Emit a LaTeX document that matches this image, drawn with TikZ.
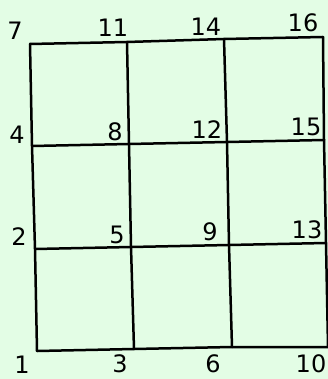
\documentclass[tikz,border=0pt]{standalone}
\usepackage{fontspec}
\setmainfont{DejaVu Sans}
\definecolor{paper}{HTML}{E3FDE5}
\tikzset{
  gridline/.style={line width=2.5pt, draw=black, line cap=round, line join=round},
  vlabel/.style={font=\fontsize{24}{26}\selectfont, inner sep=0pt},
}

\begin{document}
\begin{tikzpicture}[x=1pt, y=-1pt]
\fill[paper] (0,0) rectangle (328,379);
\useasboundingbox (0,0) rectangle (328,379);
% grid points, named after their labels
\coordinate (v1) at (37,351);
\coordinate (v3) at (134,349);
\coordinate (v6) at (232,347);
\coordinate (v10) at (328,347);
\coordinate (v2) at (35,249);
\coordinate (v5) at (131,247);
\coordinate (v9) at (229,245);
\coordinate (v13) at (326,243);
\coordinate (v4) at (32,146);
\coordinate (v8) at (129,144);
\coordinate (v12) at (227,142);
\coordinate (v15) at (324,140);
\coordinate (v7) at (30,44);
\coordinate (v11) at (127,42);
\coordinate (v14) at (224,39);
\coordinate (v16) at (323,37);
% rows
\draw[gridline] (v7) -- (v11) -- (v14) -- (v16);
\draw[gridline] (v4) -- (v8) -- (v12) -- (v15);
\draw[gridline] (v2) -- (v5) -- (v9) -- (v13);
\draw[gridline] (v1) -- (v3) -- (v6) -- (v10);
% columns
\draw[gridline] (v7) -- (v4) -- (v2) -- (v1);
\draw[gridline] (v11) -- (v8) -- (v5) -- (v3);
\draw[gridline] (v14) -- (v12) -- (v9) -- (v6);
\draw[gridline] (v16) -- (v15) -- (v13) -- (v10);
% labels
\node[vlabel] (l7) at (15,31) {7};
\node[vlabel] (l11) at (113,28) {11};
\node[vlabel] (l14) at (206,27) {14};
\node[vlabel] (l16) at (303,23) {16};
\node[vlabel] (l4) at (17,135) {4};
\node[vlabel] (l8) at (115,132) {8};
\node[vlabel] (l12) at (207,130) {12};
\node[vlabel] (l15) at (306,127) {15};
\node[vlabel] (l2) at (19,237) {2};
\node[vlabel] (l5) at (117,235) {5};
\node[vlabel] (l9) at (210,232) {9};
\node[vlabel] (l13) at (307,230) {13};
\node[vlabel] (l1) at (22,365) {1};
\node[vlabel] (l3) at (120,364) {3};
\node[vlabel] (l6) at (213,364) {6};
\node[vlabel] (l10) at (311,364) {10};
\end{tikzpicture}
\end{document}
